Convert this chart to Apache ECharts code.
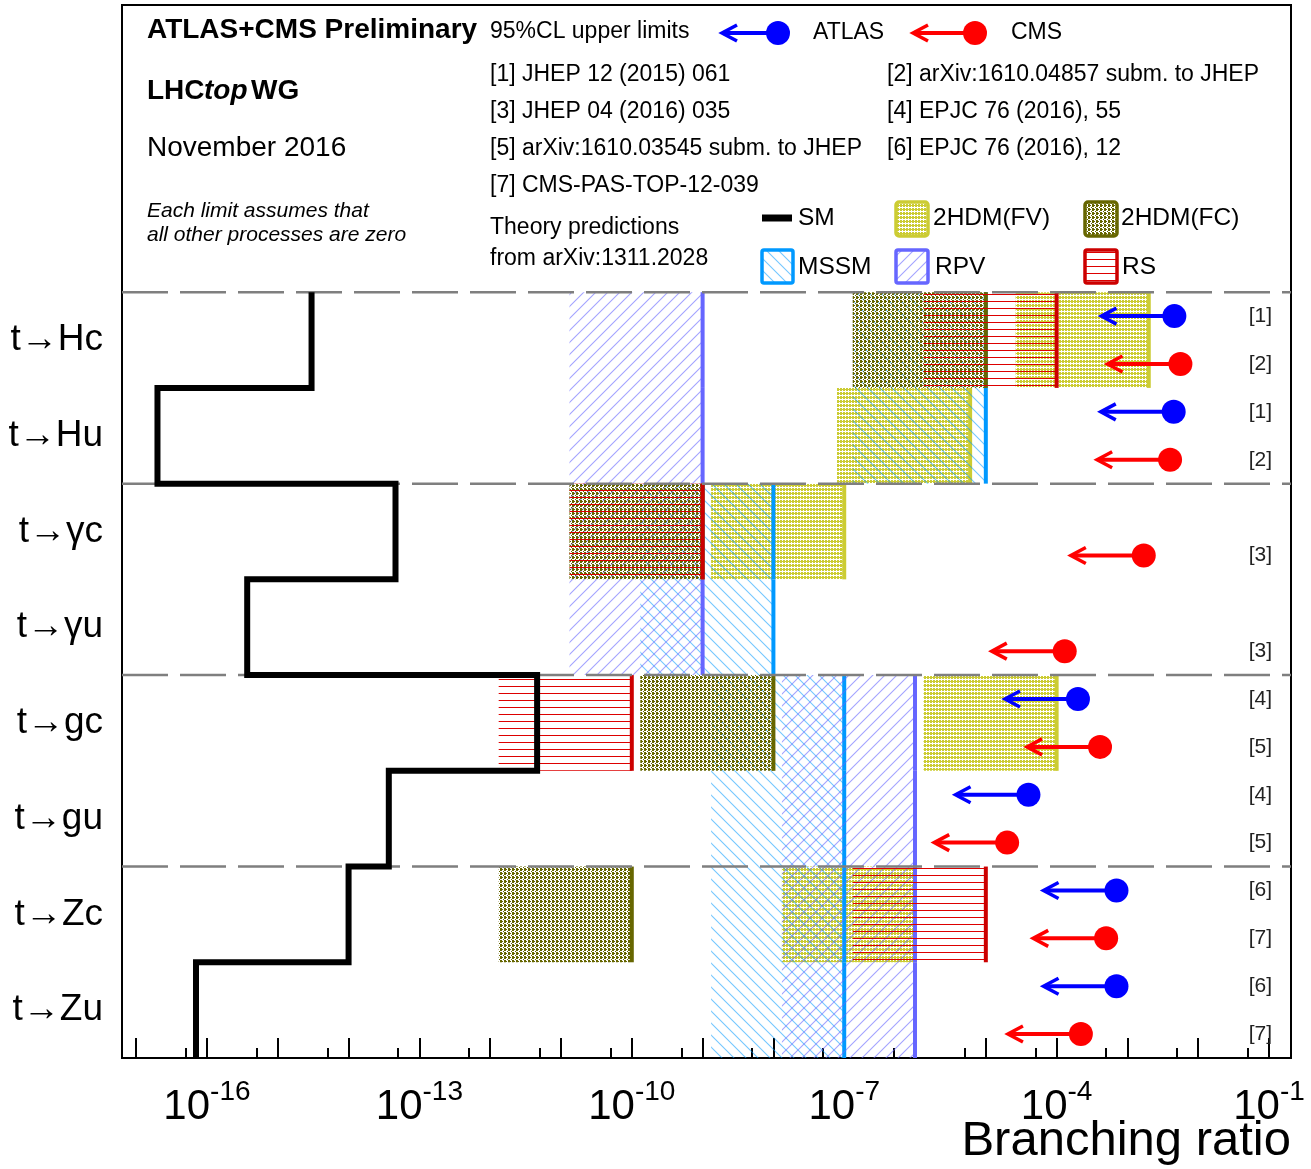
<!DOCTYPE html>
<html>
<head>
<meta charset="utf-8">
<script src="https://cdn.jsdelivr.net/npm/echarts@6.0.0/dist/echarts.min.js"></script>
<style>
  html, body { margin: 0; padding: 0; background: #fff; }
  #main { width: 1311px; height: 1169px; }
</style>
</head>
<body>
<div id="main"></div>
<script>
// decay channels, top to bottom
var channels = ['t→Hc', 't→Hu', 't→γc', 't→γu', 't→gc', 't→gu', 't→Zc', 't→Zu'];

// theory predictions from arXiv:1311.2028 (upper end of each band)
var smValues   = [3e-15, 2e-17, 4.6e-14, 3.7e-16, 4.6e-12, 3.7e-14, 1e-14, 7e-17];
var fvValues   = [2e-3, 6e-6, 1e-7, null, 1e-4, null, 1e-6, null];
var fcValues   = [1e-5, null, 1e-9, null, 1e-8, null, 1e-10, null];
var mssmValues = [1e-5, 1e-5, 1e-8, 1e-8, 1e-7, 1e-7, 1e-7, 1e-7];
var rpvValues  = [1e-9, 1e-9, 1e-9, 1e-9, 1e-6, 1e-6, 1e-6, 1e-6];
var rsValues   = [1e-4, null, 1e-9, null, 1e-10, null, 1e-5, null];

// 95% CL upper limits
var atlasLimits = [4.6e-3, 4.5e-3, null, null, 2.0e-4, 4.0e-5, 7e-4, 7e-4];
var cmsLimits   = [5.6e-3, 4.0e-3, 1.7e-3, 1.3e-4, 4.1e-4, 2.0e-5, 5e-4, 2.2e-4];
var atlasRefs   = ['[1]', '[1]', null, null, '[4]', '[4]', '[6]', '[6]'];
var cmsRefs     = ['[2]', '[2]', '[3]', '[3]', '[5]', '[5]', '[7]', '[7]'];

// x axis labels (exponents of 10)
var labelExponents = [-16, -13, -10, -7, -4, -1];

var references = [
  '[1] JHEP 12 (2015) 061', '[2] arXiv:1610.04857 subm. to JHEP',
  '[3] JHEP 04 (2016) 035', '[4] EPJC 76 (2016), 55',
  '[5] arXiv:1610.03545 subm. to JHEP', '[6] EPJC 76 (2016), 12',
  '[7] CMS-PAS-TOP-12-039'
];

var XMIN = -17.2, XMAX = -0.69;
var BOX_DECADES = 1.88;    // width of a theory band
var ARROW_DECADES = 1.03;  // length of a limit arrow
var FONT = '"Liberation Sans", Arial, Helvetica, sans-serif';

function tile(w, h, draw) {
  var c = document.createElement('canvas');
  c.width = w; c.height = h;
  draw(c.getContext('2d'), w, h);
  return { image: c, repeat: 'repeat' };
}
function hatch(size, color, dir) {
  return tile(size, size, function (g, s) {
    g.strokeStyle = color; g.lineWidth = 1.1;
    g.beginPath();
    if (dir === '/') {
      g.moveTo(0, s); g.lineTo(s, 0);
      g.moveTo(-2, 2); g.lineTo(2, -2);
      g.moveTo(s - 2, s + 2); g.lineTo(s + 2, s - 2);
    } else {
      g.moveTo(0, 0); g.lineTo(s, s);
      g.moveTo(s - 2, -2); g.lineTo(s + 2, 2);
      g.moveTo(-2, s - 2); g.lineTo(2, s + 2);
    }
    g.stroke();
  });
}
function dots(color) {
  return tile(3, 4, function (g) {
    g.fillStyle = color;
    g.fillRect(0, 0, 2, 3);
    g.fillRect(2, 1, 1, 1);
  });
}
function sparseDots(color) {
  return tile(4, 4, function (g) {
    g.fillStyle = color;
    g.fillRect(0, 0, 2, 3);
    g.fillRect(2, 1, 1, 1);
    g.fillRect(3, 3, 1, 1);
  });
}
function ruled(color) {
  return tile(4, 7, function (g) {
    g.fillStyle = color;
    g.fillRect(0, 0, 4, 1);
  });
}

var models = {
  fv:   { values: fvValues,   line: '#cccc33', fill: dots('#cccc33'), z: 2 },
  mssm: { values: mssmValues, line: '#0099ff', fill: hatch(12, 'rgba(0,153,255,0.55)', '\\'), z: 3 },
  rpv:  { values: rpvValues,  line: '#6666ff', fill: hatch(12, 'rgba(102,102,255,0.6)', '/'), z: 4 },
  fc:   { values: fcValues,   line: '#666600', fill: sparseDots('#666600'), z: 5 },
  rs:   { values: rsValues,   line: '#cc0000', fill: ruled('#dd0000'), z: 6 }
};

function bandSeries(m) {
  var data = [];
  m.values.forEach(function (v, i) {
    if (v != null) data.push([Math.log10(v), i]);
  });
  return {
    type: 'custom', z: m.z, silent: true, data: data,
    renderItem: function (params, api) {
      var hi = api.value(0), row = api.value(1);
      var p0 = api.coord([hi - BOX_DECADES, 2 * row]);
      var p1 = api.coord([hi, 2 * row + 2]);
      return {
        type: 'group',
        children: [
          { type: 'rect', shape: { x: p0[0], y: p0[1], width: p1[0] - p0[0], height: p1[1] - p0[1] },
            style: { fill: m.fill } },
          { type: 'line', shape: { x1: p1[0], y1: p0[1], x2: p1[0], y2: p1[1] },
            style: { stroke: m.line, lineWidth: 4 } }
        ]
      };
    }
  };
}

function arrowEls(tipX, cx, y, color) {
  return [
    { type: 'line', shape: { x1: tipX + 2, y1: y, x2: cx, y2: y }, style: { stroke: color, lineWidth: 4 } },
    { type: 'polyline', shape: { points: [[tipX + 15, y - 8], [tipX, y], [tipX + 15, y + 8]] },
      style: { stroke: color, lineWidth: 3.5, fill: 'none' } },
    { type: 'circle', shape: { cx: cx, cy: y, r: 12 }, style: { fill: color } }
  ];
}

function limitSeries(values, offset, color) {
  var data = [];
  values.forEach(function (v, i) {
    if (v != null) data.push([Math.log10(v), 2 * i + offset]);
  });
  return {
    type: 'custom', z: 9, silent: true, data: data,
    renderItem: function (params, api) {
      var c = api.coord([api.value(0), api.value(1) + 0.5]);
      var t = api.coord([api.value(0) - ARROW_DECADES, api.value(1) + 0.5]);
      return { type: 'group', children: arrowEls(t[0], c[0], c[1], color) };
    }
  };
}

// SM step line
var smPath = [];
smValues.forEach(function (v, i) {
  var x = Math.log10(v);
  smPath.push([x, 2 * i], [x, 2 * i + 2]);
});

// dashed separators between channel pairs
var separators = [];
for (var i = 0; i < channels.length; i += 2) separators.push([XMIN, 2 * i]);

var decadeTicks = [], fiveTicks = [];
for (var e = -17; e <= -1; e++) {
  decadeTicks.push(e);
  var f = e + Math.log10(5);
  if (f > XMIN && f < XMAX) fiveTicks.push(f);
}

var channelCenters = channels.map(function (c, i) { return 2 * i + 1; });
var refCenters = [];
channels.forEach(function (c, i) {
  if (atlasRefs[i]) refCenters.push(2 * i + 0.5);
  if (cmsRefs[i]) refCenters.push(2 * i + 1.5);
});

function txt(text, x, y, size, extra) {
  return {
    type: 'text', silent: true,
    style: Object.assign({
      text: text, x: x, y: y, fill: '#000',
      font: size + 'px ' + FONT, textAlign: 'left', textVerticalAlign: 'middle'
    }, extra || {})
  };
}

var graphics = [
  txt('ATLAS+CMS Preliminary', 147, 30, 28, { font: 'bold 28px ' + FONT }),
  txt('LHC', 147, 91, 28, { font: 'bold 28px ' + FONT }),
  txt('top', 204, 91, 28, { font: 'italic bold 28px ' + FONT }),
  txt('WG', 251, 91, 28, { font: 'bold 28px ' + FONT }),
  txt('November 2016', 147, 148, 28),
  txt('Each limit assumes that', 147, 211, 21, { font: 'italic 21px ' + FONT }),
  txt('all other processes are zero', 147, 235, 21, { font: 'italic 21px ' + FONT }),
  txt('95%CL upper limits', 490, 32, 23),
  txt('ATLAS', 813, 33, 23),
  txt('CMS', 1011, 33, 23),
  txt('Theory predictions', 490, 228, 23),
  txt('from arXiv:1311.2028', 490, 259, 23),
  txt('SM', 798, 218, 24.5),
  txt('MSSM', 798, 267, 24.5),
  txt('2HDM(FV)', 933, 218, 24.5),
  txt('RPV', 935, 267, 24.5),
  txt('2HDM(FC)', 1121, 218, 24.5),
  txt('RS', 1122, 267, 24.5),
  txt('Branching ratio', 1291, 1141, 49, { textAlign: 'right' }),
  { type: 'group', silent: true, children: arrowEls(722, 778, 33, '#0000ff') },
  { type: 'group', silent: true, children: arrowEls(913, 975, 33, '#ff0000') },
  { type: 'rect', silent: true, shape: { x: 762, y: 214.5, width: 30, height: 7 }, style: { fill: '#000' } },
  { type: 'rect', silent: true, shape: { x: 762, y: 250, width: 31, height: 33, r: 2 },
    style: { fill: models.mssm.fill, stroke: models.mssm.line, lineWidth: 3.5 } },
  { type: 'rect', silent: true, shape: { x: 896, y: 202, width: 32, height: 34, r: 3 },
    style: { fill: models.fv.fill, stroke: models.fv.line, lineWidth: 3.5 } },
  { type: 'rect', silent: true, shape: { x: 896, y: 250, width: 32, height: 33, r: 2 },
    style: { fill: models.rpv.fill, stroke: models.rpv.line, lineWidth: 3.5 } },
  { type: 'rect', silent: true, shape: { x: 1085, y: 202, width: 32, height: 34, r: 3 },
    style: { fill: models.fc.fill, stroke: models.fc.line, lineWidth: 3.5 } },
  { type: 'rect', silent: true, shape: { x: 1085, y: 250, width: 32, height: 33, r: 2 },
    style: { fill: models.rs.fill, stroke: models.rs.line, lineWidth: 3.5 } }
];
references.forEach(function (r, i) {
  graphics.push(txt(r, i % 2 === 0 ? 490 : 887, 75 + 37 * Math.floor(i / 2), 23));
});

var chart = echarts.init(document.getElementById('main'));

var option = {
  animation: false,
  grid: { left: 122, right: 20, top: 5, bottom: 111, show: true, borderColor: '#000', borderWidth: 2 },
  xAxis: [
    {
      type: 'value', min: XMIN, max: XMAX, position: 'bottom',
      splitLine: { show: false }, axisLine: { show: false, onZero: false },
      axisTick: { inside: true, length: 20, customValues: decadeTicks, lineStyle: { color: '#000', width: 2 } },
      axisLabel: {
        customValues: labelExponents, margin: 20,
        formatter: function (v) { return '{b|10}{s|' + Math.round(v) + '}'; },
        rich: {
          b: { fontFamily: FONT, fontSize: 42, lineHeight: 58, color: '#000' },
          s: { fontFamily: FONT, fontSize: 28, lineHeight: 20, verticalAlign: 'top', color: '#000' }
        }
      }
    },
    {
      type: 'value', min: XMIN, max: XMAX, position: 'bottom',
      splitLine: { show: false }, axisLine: { show: false, onZero: false },
      axisTick: { inside: true, length: 10, customValues: fiveTicks, lineStyle: { color: '#000', width: 2 } },
      axisLabel: { show: false }
    }
  ],
  yAxis: [
    {
      type: 'value', min: -6, max: 16, inverse: true, position: 'left',
      splitLine: { show: false }, axisLine: { show: false, onZero: false }, axisTick: { show: false },
      axisLabel: {
        customValues: channelCenters, margin: 19, color: '#000',
        fontFamily: FONT, fontSize: 37,
        formatter: function (v) { return channels[Math.round((v - 1) / 2)]; }
      }
    },
    {
      type: 'value', min: -6, max: 16, inverse: true, position: 'right',
      splitLine: { show: false }, axisLine: { show: false, onZero: false }, axisTick: { show: false },
      axisLabel: {
        inside: true, customValues: refCenters, margin: 19, color: '#222',
        fontFamily: FONT, fontSize: 21, padding: [0, 0, 16, 0],
        formatter: function (v) {
          var s = Math.floor(v), row = Math.floor(s / 2);
          return s % 2 === 0 ? atlasRefs[row] : cmsRefs[row];
        }
      }
    }
  ],
  series: [
    bandSeries(models.fv),
    bandSeries(models.mssm),
    bandSeries(models.rpv),
    bandSeries(models.fc),
    bandSeries(models.rs),
    {
      type: 'custom', z: 7, silent: true, data: separators,
      renderItem: function (params, api) {
        var cs = params.coordSys;
        var y = api.coord([api.value(0), api.value(1)])[1];
        return { type: 'line', shape: { x1: cs.x, y1: y, x2: cs.x + cs.width, y2: y },
          style: { stroke: '#7f7f7f', lineWidth: 2.5, lineDash: [46, 12] } };
      }
    },
    {
      type: 'line', z: 8, silent: true, data: smPath, symbol: 'none',
      lineStyle: { color: '#000', width: 6, join: 'miter', cap: 'butt' }
    },
    limitSeries(atlasLimits, 0, '#0000ff'),
    limitSeries(cmsLimits, 1, '#ff0000')
  ],
  graphic: graphics
};

chart.setOption(option);
</script>
</body>
</html>
